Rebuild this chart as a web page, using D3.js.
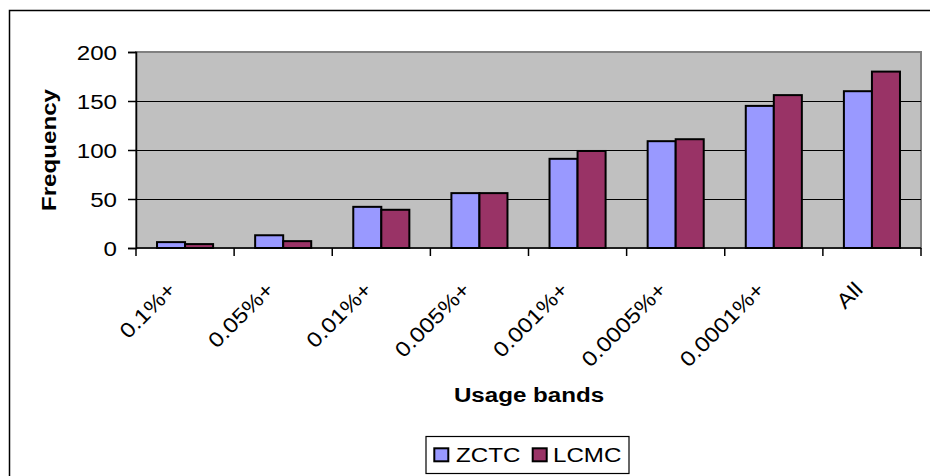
<!DOCTYPE html>
<html><head><meta charset="utf-8">
<script src="https://d3js.org/d3.v7.min.js"></script>
<style>body{margin:0;background:#fff}svg{display:block}</style>
</head><body>
<script>
const categories = ["0.1%+","0.05%+","0.01%+","0.005%+","0.001%+","0.0005%+","0.0001%+","All"];
const seriesNames = ["ZCTC","LCMC"];
const zctc = [6,13,42,56,91,109,145,160];
const lcmc = [4,7,39,56,99,111,156,180];
const yTicks = [0,50,100,150,200];
const colors = ["#9999FF","#993366"];

const W = 930, H = 476;
const FONT = "Arial, 'Liberation Sans', sans-serif";
const SX = 1.15; // glyph widening along baseline
const svg = d3.select("body").append("svg").attr("width",W).attr("height",H);
svg.append("rect").attr("width",W).attr("height",H).attr("fill","#fff");
svg.append("rect").attr("x",9.5).attr("y",10.5).attr("width",940).attr("height",500)
  .attr("fill","none").attr("stroke","#000").attr("stroke-width",1.5);

function label(txt, tx, ty, rot, anchor, size, bold, dy){
  return svg.append("text")
    .attr("transform",`translate(${tx},${ty}) rotate(${rot}) scale(${SX},1)`)
    .attr("text-anchor",anchor).attr("dy",dy||0)
    .attr("font-family",FONT).attr("font-size",size).attr("font-weight",bold?"bold":"normal")
    .attr("fill","#000").text(txt);
}

const L = 136, R = 921, T = 52, B = 248;
const x = d3.scaleBand().domain(categories).range([L,R]);
const y = d3.scaleLinear().domain([0,200]).range([B,T]);

svg.append("rect").attr("x",L).attr("y",T).attr("width",R-L).attr("height",B-T)
  .attr("fill","#C0C0C0").attr("stroke","#808080").attr("stroke-width",2);

svg.append("g").selectAll("line").data(yTicks.filter(d=>d>0 && d<200)).join("line")
  .attr("x1",L).attr("x2",R).attr("y1",d=>Math.round(y(d))+0.5).attr("y2",d=>Math.round(y(d))+0.5)
  .attr("stroke","#000").attr("stroke-width",1);

const bw = x.bandwidth()/3.5;
const g = svg.append("g");
categories.forEach((c,i)=>{
  [zctc[i],lcmc[i]].forEach((v,j)=>{
    const x0 = x(c) + x.bandwidth()/2 - bw + j*bw;
    g.append("rect").attr("x",x0).attr("y",y(v)).attr("width",bw).attr("height",B-y(v))
      .attr("fill",colors[j]).attr("stroke","#000").attr("stroke-width",2);
  });
});

// y axis
const yAxis = d3.axisLeft(y).tickValues(yTicks).tickSize(8).tickFormat("");
const ya = svg.append("g").attr("transform",`translate(${L},0)`).call(yAxis);
ya.select(".domain").attr("stroke","#000").attr("stroke-width",1.5);
ya.selectAll(".tick line").attr("stroke","#000").attr("stroke-width",1.5);
yTicks.forEach(t=>label(String(t), 117, y(t), 0, "end", 21, false, "0.36em"));

// x axis
const xb = svg.append("g").attr("transform",`translate(0,${B})`);
xb.append("line").attr("x1",L).attr("x2",R).attr("stroke","#000").attr("stroke-width",1.5);
const bounds = categories.map(c=>x(c)).concat([R]);
xb.selectAll("line.tk").data(bounds).join("line").attr("class","tk")
  .attr("x1",d=>d).attr("x2",d=>d).attr("y1",0).attr("y2",8).attr("stroke","#000").attr("stroke-width",1.5);
categories.forEach(c=>label(c, x(c)+x.bandwidth()/2-8, B+43, -45, "end", 21, false));

// axis titles
label("Usage bands", 529, 402, 0, "middle", 21, true);
label("Frequency", 56, 150, -90, "middle", 21, true);

// legend
svg.append("rect").attr("x",426).attr("y",436.5).attr("width",203).attr("height",37)
  .attr("fill","#fff").attr("stroke","#000").attr("stroke-width",1.2);
const lx = [434.3, 532.7], tx = [456, 553];
seriesNames.forEach((s,i)=>{
  svg.append("rect").attr("x",lx[i]).attr("y",448.3).attr("width",14).attr("height",13)
    .attr("fill",colors[i]).attr("stroke","#000").attr("stroke-width",2);
  label(s, tx[i], 462, 0, "start", 21, false);
});
</script>
</body></html>
